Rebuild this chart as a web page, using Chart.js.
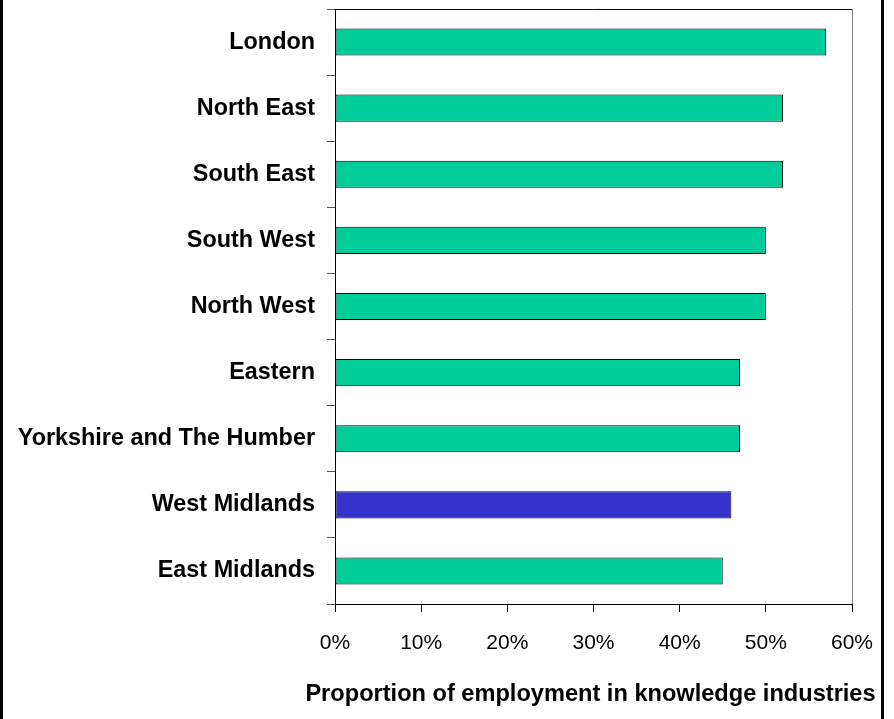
<!DOCTYPE html>
<html>
<head>
<meta charset="utf-8">
<script src="https://cdn.jsdelivr.net/npm/chart.js@4/dist/chart.umd.min.js"></script>
<style>
  body { margin: 0; background: #fff; }
  #wrap { position: relative; width: 894px; height: 719px; }
  #chart { position: absolute; left: 0; top: 0; }
  #frame {
    position: absolute; left: 0; top: -4px; width: 878px; height: 730px;
    border-left: 3px solid #000; border-right: 3px solid #000;
    pointer-events: none;
  }
</style>
</head>
<body>
<div id="wrap">
  <canvas id="chart" width="894" height="719"></canvas>
  <div id="frame"></div>
</div>
<script>
// REGIONS AND SHARES
const regions = [
  "London",
  "North East",
  "South East",
  "South West",
  "North West",
  "Eastern",
  "Yorkshire and The Humber",
  "West Midlands",
  "East Midlands",
];
const knowledgeShare = [57, 52, 52, 50, 50, 47, 47, 46, 45];
const highlightRegion = "West Midlands";
const axisTitle = "Proportion of employment in knowledge industries";

const GREEN = "#00CC99";
const BLUE = "#3333CC";
const FONT = "'Liberation Sans', Arial, sans-serif";

Chart.defaults.font.family = FONT;
Chart.defaults.color = "#000";

const barColors = regions.map(r => (r === highlightRegion ? BLUE : GREEN));

// top and right edge of the plot box
const plotFrame = {
  id: "plotFrame",
  afterDraw(chart) {
    const { ctx, chartArea: a } = chart;
    ctx.save();
    ctx.lineWidth = 1;
    ctx.strokeStyle = "#000";
    ctx.beginPath();
    ctx.moveTo(a.left, a.top + 0.5);
    ctx.lineTo(a.right, a.top + 0.5);
    ctx.stroke();
    ctx.strokeStyle = "#808080";
    ctx.beginPath();
    ctx.moveTo(a.right + 0.5, a.top);
    ctx.lineTo(a.right + 0.5, a.bottom);
    ctx.stroke();
    ctx.restore();
  },
};

// x axis title, drawn by hand so it isn't squeezed to the plot width
const xTitle = {
  id: "xTitle",
  afterDraw(chart) {
    const { ctx, chartArea: a } = chart;
    const xs = chart.scales.x;
    ctx.save();
    ctx.font = "bold 23.6px " + FONT;
    ctx.fillStyle = "#000";
    ctx.textAlign = "center";
    ctx.textBaseline = "middle";
    ctx.fillText(axisTitle, (a.left + a.right) / 2 - 3, xs.bottom - 25);
    ctx.restore();
  },
};

const ctx = document.getElementById("chart").getContext("2d");
const my_chart = new Chart(ctx, {
  type: "bar",
  data: {
    labels: regions,
    datasets: [
      {
        data: knowledgeShare,
        backgroundColor: barColors,
        borderColor: "#000",
        borderWidth: 1,
        borderSkipped: false,
        categoryPercentage: 1,
        barPercentage: 0.41,
      },
    ],
  },
  options: {
    indexAxis: "y",
    responsive: false,
    animation: false,
    layout: { padding: { top: 9, right: 42, left: 0, bottom: 0 } },
    plugins: {
      legend: { display: false },
      tooltip: { enabled: false },
    },
    scales: {
      x: {
        min: 0,
        max: 60,
        ticks: {
          stepSize: 10,
          padding: 19,
          font: { size: 21 },
          callback: v => v + "%",
        },
        grid: {
          drawOnChartArea: false,
          tickLength: 8,
          color: "#000",
        },
        border: { color: "#000", width: 1 },
        afterFit(scale) {
          scale.height = 115;
        },
      },
      y: {
        ticks: {
          padding: 12,
          font: { size: 23.4, weight: "bold" },
        },
        grid: {
          offset: true,
          drawOnChartArea: false,
          tickLength: 8,
          color: "#555",
        },
        border: { color: "#000", width: 1 },
        afterFit(scale) {
          scale.width = 335;
          scale.paddingTop = 0;
          scale.paddingBottom = 0;
        },
      },
    },
  },
  plugins: [plotFrame, xTitle],
});
</script>
</body>
</html>
